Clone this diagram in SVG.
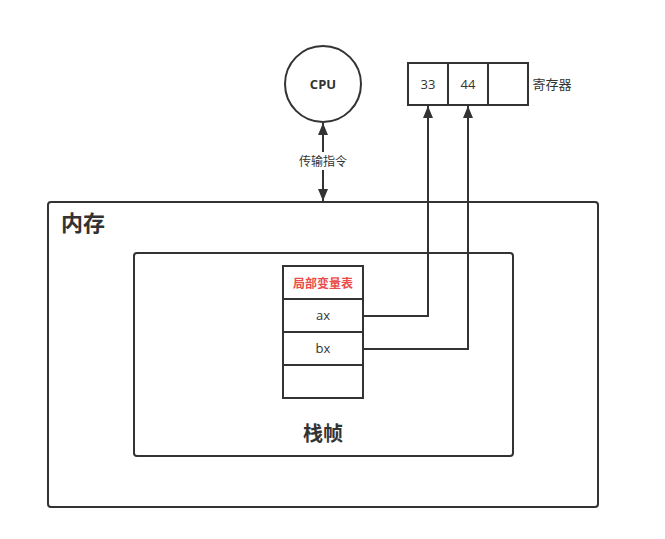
<svg xmlns="http://www.w3.org/2000/svg" width="665" height="539" viewBox="0 0 665 539">
<style>
.box{fill:#fff;stroke:#333;stroke-width:2}
.ln{fill:none;stroke:#333;stroke-width:2}
.t{font-family:"Open Sans","Noto Sans CJK SC",sans-serif;fill:#333;text-anchor:middle;dominant-baseline:central}
</style>
<defs>
<marker id="ah" viewBox="0 0 12 10" refX="12" refY="5" markerWidth="12" markerHeight="10" markerUnits="userSpaceOnUse" orient="auto-start-reverse">
<path d="M0,0 L12,5 L0,10 z" fill="#333"/>
</marker>
</defs>
<rect width="665" height="539" fill="#fff"/>
<g id="memory">
<rect class="box" x="48" y="202" width="550" height="305" rx="3"/>
<text class="t" x="83" y="222" font-size="22" font-weight="bold">内存</text>
</g>
<g id="stackframe">
<rect class="box" x="134" y="253" width="379" height="203" rx="3"/>
<text class="t" x="323" y="433" font-size="20" font-weight="bold">栈帧</text>
</g>
<g id="localvars">
<rect class="box" x="283" y="266" width="80" height="33"/>
<text class="t" x="323" y="283" font-size="12" font-weight="bold" style="fill:#ea4b4b">局部变量表</text>
<rect class="box" x="283" y="299" width="80" height="33"/>
<text class="t" x="323" y="315" font-size="13">ax</text>
<rect class="box" x="283" y="332" width="80" height="33"/>
<text class="t" x="323" y="348" font-size="13">bx</text>
<rect class="box" x="283" y="365" width="80" height="33"/>
</g>
<g id="cpu">
<circle class="box" cx="323" cy="84" r="38"/>
<text class="t" x="323" y="84" font-size="13" font-weight="bold">CPU</text>
</g>
<g id="registers">
<rect class="box" x="408" y="63" width="40" height="42"/>
<rect class="box" x="448" y="63" width="40" height="42"/>
<rect class="box" x="488" y="63" width="40" height="42"/>
<text class="t" x="428" y="84" font-size="13">33</text>
<text class="t" x="468" y="84" font-size="13">44</text>
<text class="t" x="552" y="84" font-size="13">寄存器</text>
</g>
<g id="connectors">
<path class="ln" d="M323,123 V201" marker-start="url(#ah)" marker-end="url(#ah)"/>
<rect x="295" y="152" width="56" height="18" fill="#fff"/>
<text class="t" x="323" y="161" font-size="12">传输指令</text>
<path class="ln" d="M363,316 H428 V106" marker-end="url(#ah)"/>
<path class="ln" d="M363,349 H468 V106" marker-end="url(#ah)"/>
</g>
</svg>
